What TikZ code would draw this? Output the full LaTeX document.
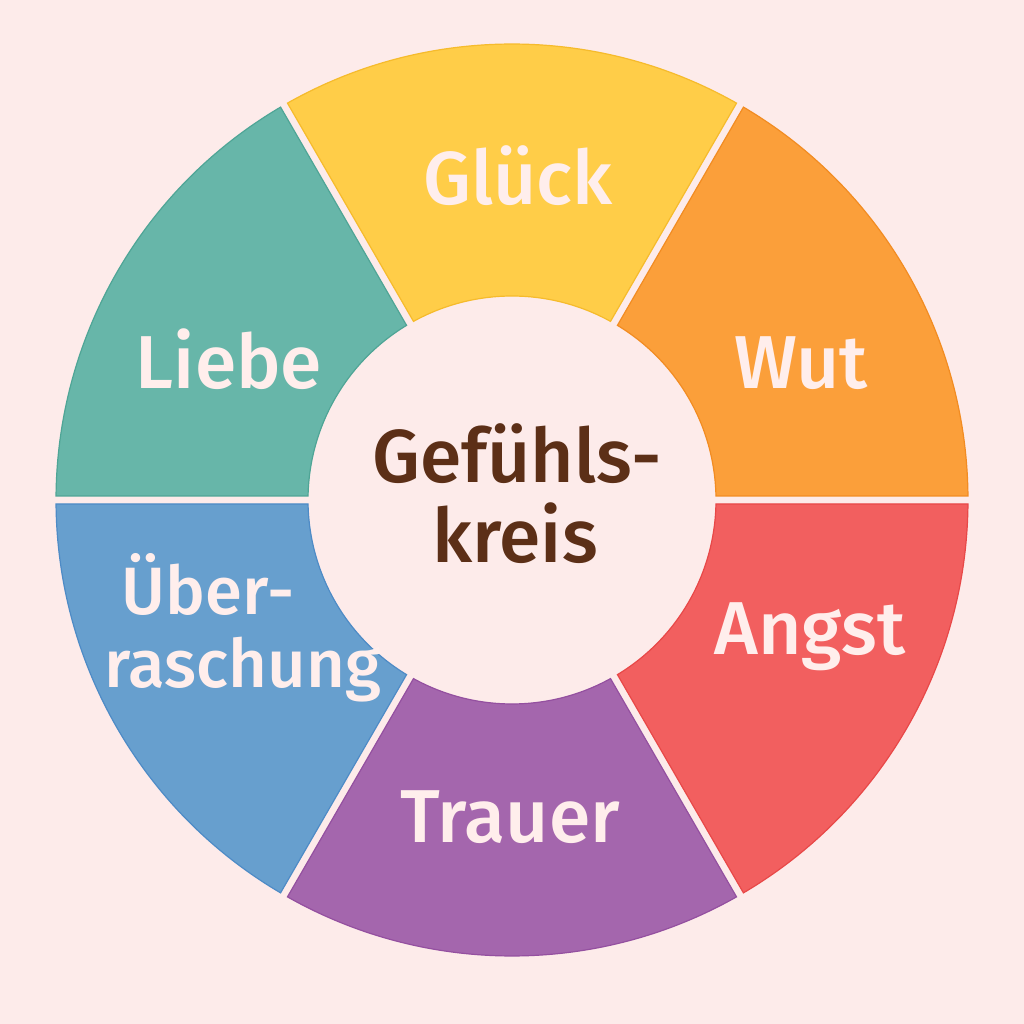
\documentclass[tikz,border=0pt]{standalone}
\usepackage{fontspec}
\setmainfont{Fira Sans}[BoldFont={Fira Sans Medium}]
\usetikzlibrary{calc}
\definecolor{bgc}{HTML}{FDEBEA}
\definecolor{cyel}{HTML}{FFCD48}\definecolor{syel}{HTML}{F6BB2C}
\definecolor{cora}{HTML}{FB9F3A}\definecolor{sora}{HTML}{F28C22}
\definecolor{cred}{HTML}{F25F5F}\definecolor{sred}{HTML}{E84848}
\definecolor{cpur}{HTML}{A466AD}\definecolor{spur}{HTML}{9450A0}
\definecolor{cblu}{HTML}{679FCE}\definecolor{sblu}{HTML}{4E8BC6}
\definecolor{ctea}{HTML}{67B6A9}\definecolor{stea}{HTML}{4FA596}
\definecolor{labc}{HTML}{FFEEEC}
\definecolor{ctr}{HTML}{5C2F17}
\newcommand\wheelseg[4]{%
  \pgfmathsetmacro\aoa{#3+0.503}\pgfmathsetmacro\aob{#4-0.503}%
  \pgfmathsetmacro\aia{#3+1.124}\pgfmathsetmacro\aib{#4-1.124}%
  \filldraw[fill=#1,draw=#2,line width=0.6pt]
    ($(c)+(\aoa:228pt)$) arc[start angle=\aoa,end angle=\aob,radius=228pt]
    -- ($(c)+(\aib:102pt)$) arc[start angle=\aib,end angle=\aia,radius=102pt]
    -- cycle;}
\begin{document}
\begin{tikzpicture}[x=0.5pt,y=0.5pt,
  lab/.style={text=labc,font=\bfseries\fontsize{37.5}{42}\selectfont,anchor=base,inner sep=0pt},
  labsm/.style={lab,font=\bfseries\fontsize{33.5}{36}\selectfont},
  ctrtxt/.style={text=ctr,font=\bfseries\fontsize{37.5}{40}\selectfont,anchor=base,inner sep=0pt}]
\fill[bgc] (0,0) rectangle (1024,1024);
\useasboundingbox (0,0) rectangle (1024,1024);
\coordinate (c) at (512,524);
\wheelseg{cora}{sora}{0}{60}
\wheelseg{cyel}{syel}{60}{120}
\wheelseg{ctea}{stea}{120}{180}
\wheelseg{cblu}{sblu}{180}{240}
\wheelseg{cpur}{spur}{240}{300}
\wheelseg{cred}{sred}{300}{360}
\node[lab] (glueck) at (518,819) {Glück};
\node[lab] (wut) at (801,635) {Wut};
\node[lab] (liebe) at (229,635) {Liebe};
\node[lab] (angst) at (810,369) {Angst};
\node[lab] (trauer) at (510,181) {Trauer};
\node[labsm] (ueber1) at (208,409) {Über-};
\node[labsm] (ueber2) at (243,336) {raschung};
\node[ctrtxt] (ctr1) at (517,541) {Gefühls-};
\node[ctrtxt] (ctr2) at (515,461) {kreis};
\end{tikzpicture}
\end{document}
